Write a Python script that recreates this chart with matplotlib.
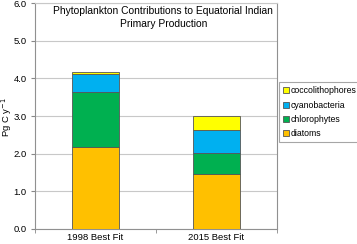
import numpy as np
import matplotlib
matplotlib.use('Agg')
import matplotlib.pyplot as plt

# Values (Pg C per year)
categories = ['1998 Best Fit', '2015 Best Fit']
diatoms = [2.19, 1.47]
chlorophytes = [1.44, 0.54]
cyanobacteria = [0.49, 0.61]
coccolithophores = [0.06, 0.38]
yticks = [0.0, 1.0, 2.0, 3.0, 4.0, 5.0, 6.0]

plt.rcParams['font.family'] = ['Liberation Sans', 'DejaVu Sans']

fig = plt.figure(figsize=(3.57, 2.44), dpi=100)
ax = fig.add_axes([0.098, 0.0615, 0.678, 0.926])

x = np.arange(len(categories))
w = 0.39
edge = '#555555'
series = [('diatoms', diatoms, '#FFC000'),
          ('chlorophytes', chlorophytes, '#00B050'),
          ('cyanobacteria', cyanobacteria, '#00B0F0'),
          ('coccolithophores', coccolithophores, '#FFFF00')]
bottom = np.zeros(len(categories))
handles = []
for name, vals, col in series:
    b = ax.bar(x, vals, w, bottom=bottom, color=col, edgecolor=edge,
               linewidth=0.6, label=name, zorder=3)
    handles.append(b)
    bottom += np.array(vals)

ax.set_xlim(-0.5, 1.5)
ax.set_ylim(0, 6)
ax.set_yticks(yticks)
ax.set_yticklabels(['%.1f' % v for v in yticks], fontsize=6.8)
ax.set_xticks(x)
ax.set_xticklabels(categories, fontsize=6.8)
ax.set_xticks([-0.5, 0.5, 1.5], minor=True)
ax.tick_params(axis='x', which='major', length=0, pad=3)
ax.tick_params(axis='x', which='minor', length=3, color='#888888')
ax.tick_params(axis='y', length=3, color='#888888', pad=3)
ax.yaxis.grid(True, color='#c8c8c8', linewidth=0.8, zorder=0)
for s in ax.spines.values():
    s.set_color('#909090')
    s.set_linewidth(0.8)
ax.spines['top'].set_color('#c8c8c8')

fig.text(0.018, 0.52, 'Pg C y$^{-1}$', rotation=90, ha='center', va='center', fontsize=6.8)
ax.text(0.53, 0.985, 'Phytoplankton Contributions to Equatorial Indian\nPrimary Production',
        transform=ax.transAxes, ha='center', va='top', fontsize=7.4, linespacing=1.3)

leg = fig.legend(handles[::-1], [s[0] for s in series][::-1],
                 loc='upper left', bbox_to_anchor=(0.781, 0.662),
                 fontsize=6.3, frameon=True, fancybox=False,
                 handlelength=0.7, handleheight=0.7, handletextpad=0.25,
                 borderpad=0.45, labelspacing=0.6, borderaxespad=0)
leg.get_frame().set_edgecolor('#909090')
leg.get_frame().set_linewidth(0.8)

fig.savefig('out.png', dpi=100)
